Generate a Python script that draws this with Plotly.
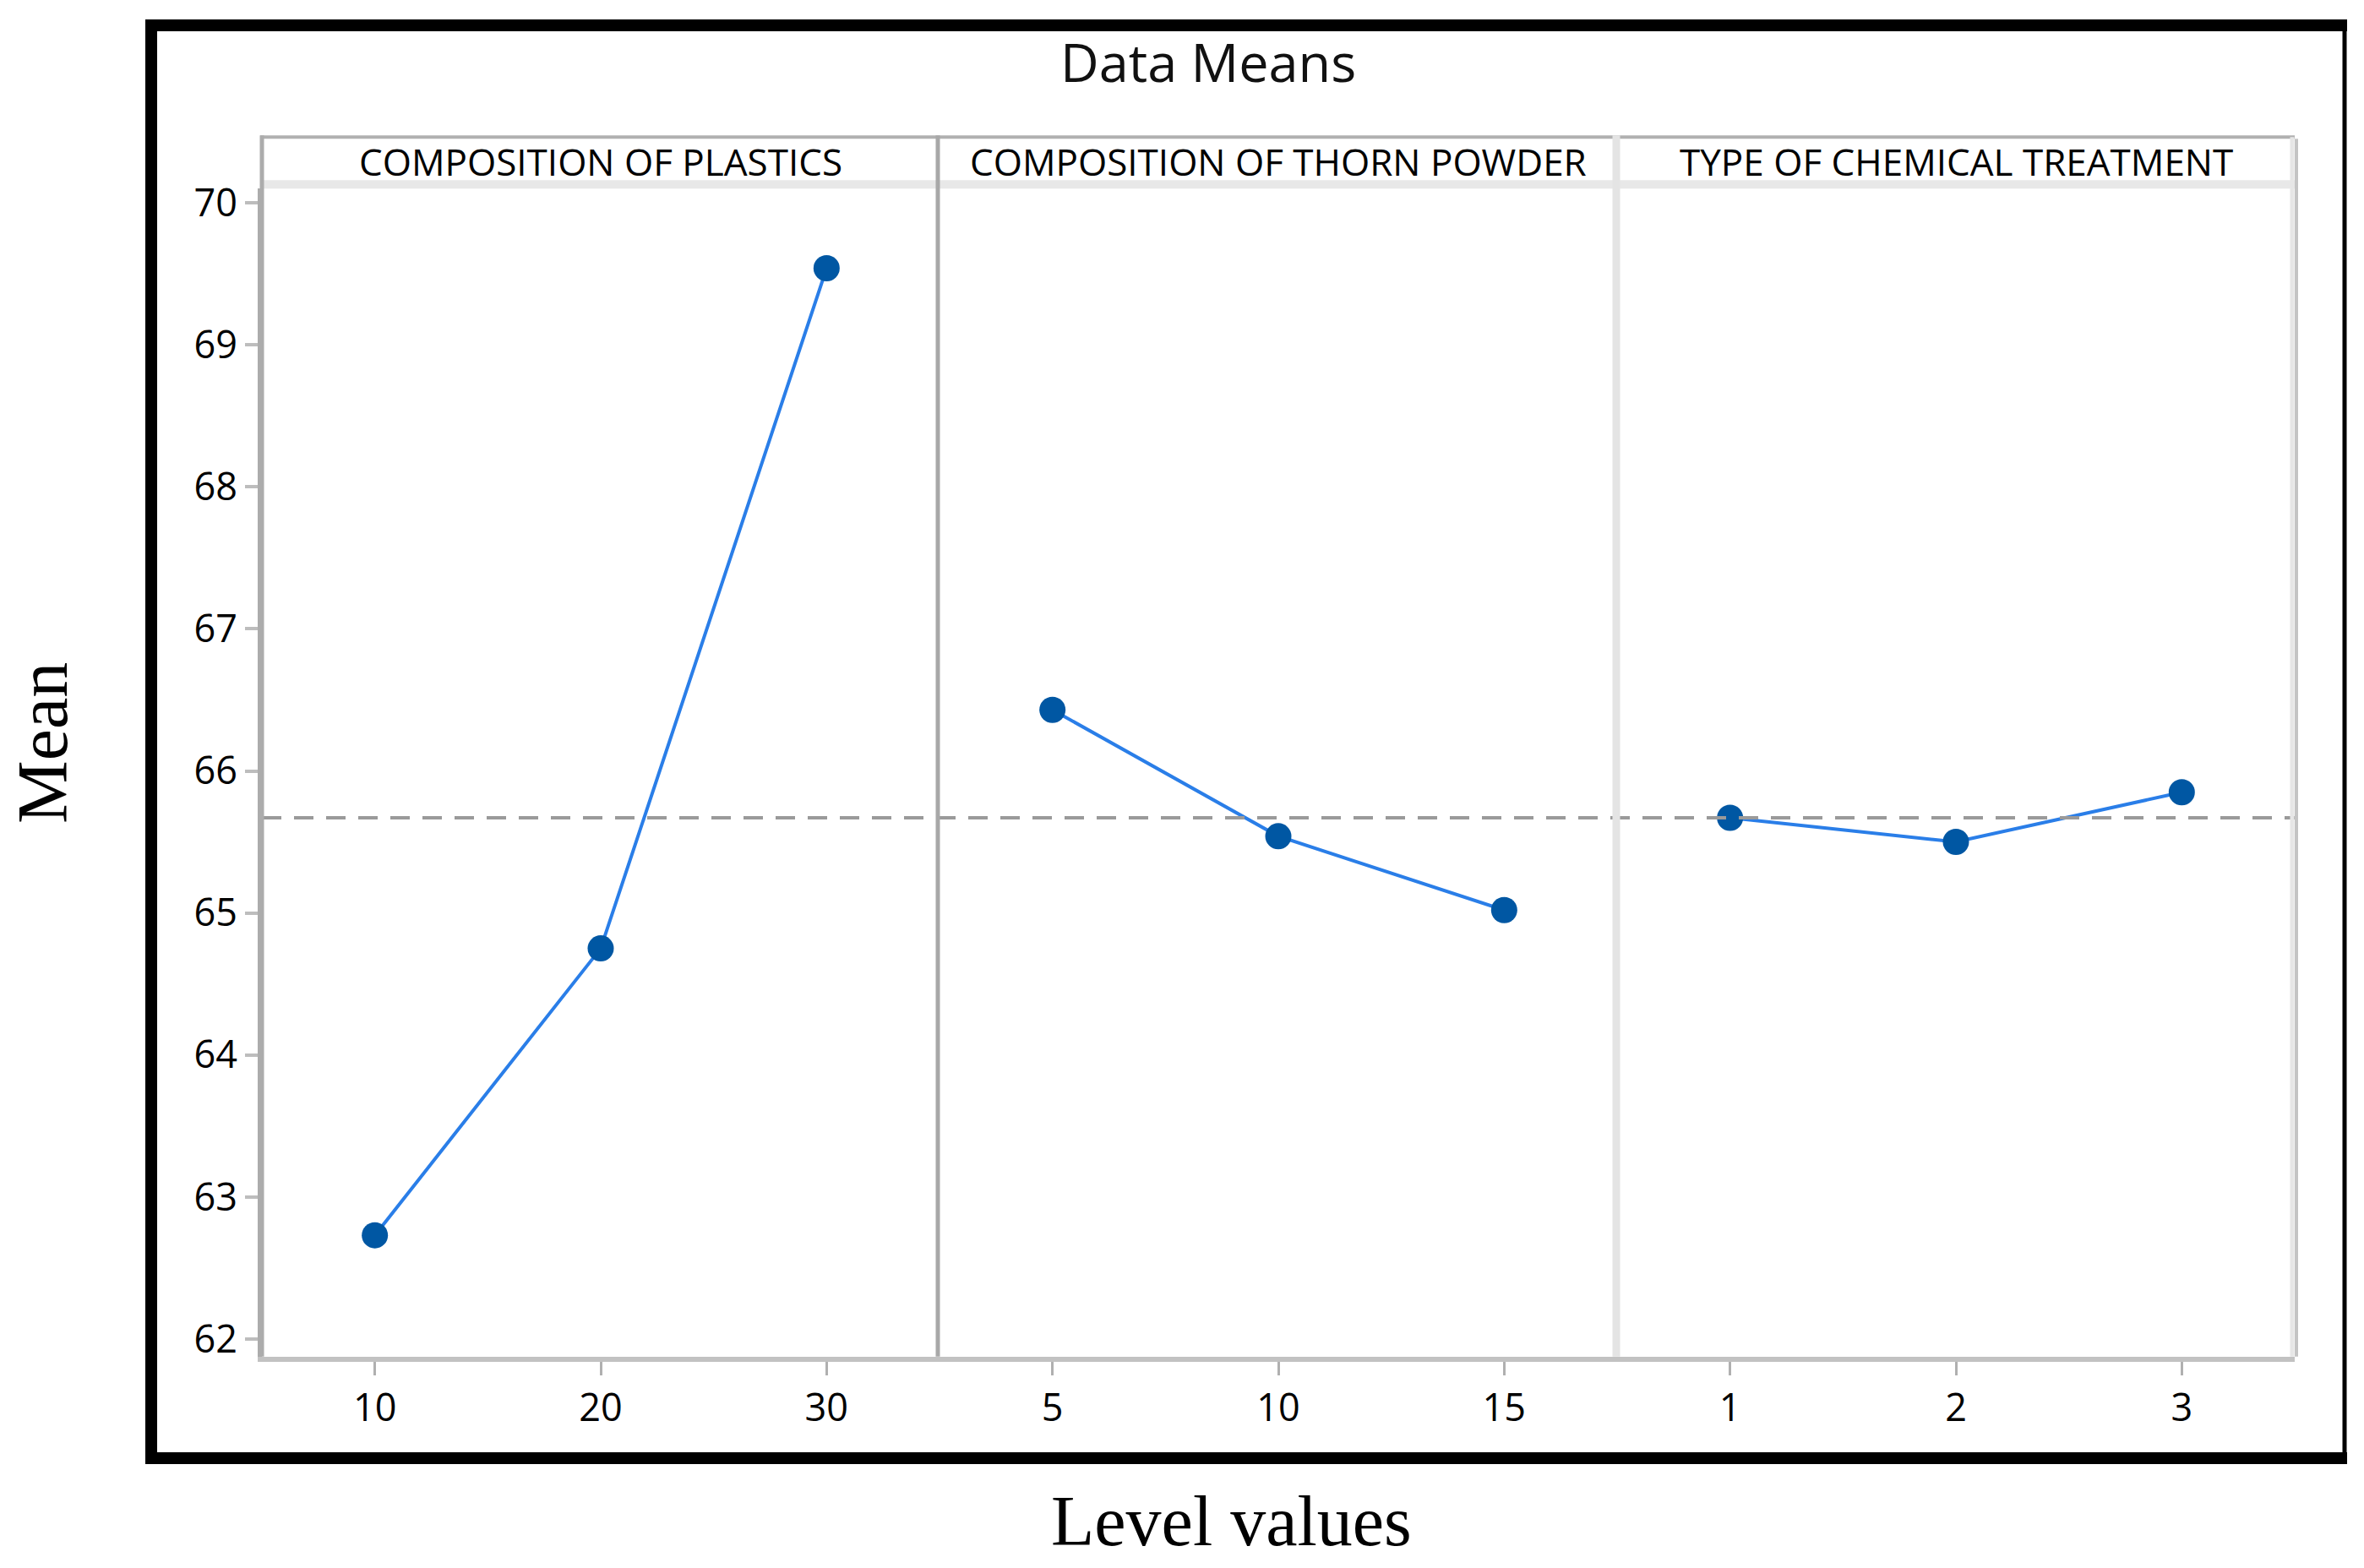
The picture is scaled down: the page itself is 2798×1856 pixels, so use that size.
"""
Main effects plot for means (Data Means) - three factors, three levels each
"""
import plotly.graph_objects as go
from plotly.subplots import make_subplots

# factor names and level values
factor_names = ["COMPOSITION OF PLASTICS", "COMPOSITION OF THORN POWDER", "TYPE OF CHEMICAL TREATMENT"]
plastic_levels = ["10", "20", "30"]
thorn_levels = ["5", "10", "15"]
treatment_levels = ["1", "2", "3"]

# mean response at each level
plastic_means = [62.73, 64.75, 69.54]
thorn_means = [66.43, 65.54, 65.02]
treatment_means = [65.67, 65.50, 65.85]

y_ticks = [62, 63, 64, 65, 66, 67, 68, 69, 70]

levels = [plastic_levels, thorn_levels, treatment_levels]
means = [plastic_means, thorn_means, treatment_means]
all_means = plastic_means + thorn_means + treatment_means
grand_mean = sum(all_means) / len(all_means)

W, H = 2798, 1856
#pixel layout of the panels (target pixels in the picture)
left_px, right_px = 310, 2716
top_px, bottom_px = 223, 1604
px = lambda v: v / W
# small vertical correction seen in the rendered page
py = lambda v: 1 - ((v - 15) / 0.987) / H

fig = make_subplots(rows=1, cols=3, shared_yaxes=True, horizontal_spacing=0)

marker_col = "#0057a3"
line_col = "#2a7ee8"
panel_w = (right_px - left_px) / 3

for i in range(3):
    fig.add_trace(go.Scatter(x=levels[i], y=means[i], mode="lines+markers",
                             line=dict(color=line_col, width=4),
                             marker=dict(color=marker_col, size=31),
                             showlegend=False), row=1, col=i + 1)
    d0 = px(left_px + i * panel_w)
    d1 = px(left_px + (i + 1) * panel_w)
    xa = "xaxis" if i == 0 else "xaxis%d" % (i + 1)
    fig.layout[xa].update(domain=[d0, d1], type="category", range=[-0.5, 2.5],
                          showgrid=False, zeroline=False,
                          showline=True, linecolor="#c2c2c2", linewidth=6,
                          ticks="outside", ticklen=16, tickwidth=3, tickcolor="#b0b0b0",
                          tickfont=dict(family="Open Sans", size=45, color="black"))
    # strip label
    fig.add_annotation(x=(d0 + d1) / 2, y=py(191), xref="paper", yref="paper",
                       text=factor_names[i], showarrow=False,
                       xanchor="center", yanchor="middle",
                       font=dict(family="Open Sans", size=44, color="black"))

fig.update_yaxes(domain=[py(bottom_px), py(top_px)], range=[61.875, 70.101],
                 tickvals=y_ticks, showgrid=False, zeroline=False)
fig.update_yaxes(showline=True, linecolor="#acacac", linewidth=5,
                 ticks="outside", ticklen=15, tickwidth=4, tickcolor="#bdbdbd",
                 tickfont=dict(family="Open Sans", size=45, color="black"), row=1, col=1)
fig.update_yaxes(showline=False, ticks="", showticklabels=False, row=1, col=2)
fig.update_yaxes(showline=False, ticks="", showticklabels=False, row=1, col=3)

shapes = []
# grand mean reference line
shapes.append(dict(type="line", xref="paper", yref="y", x0=px(left_px), x1=px(right_px),
                   y0=grand_mean, y1=grand_mean,
                   line=dict(color="#9a9a9a", width=4, dash="23px,15px")))
# strip header: top rule and grey band below
shapes.append(dict(type="line", xref="paper", yref="paper", x0=px(left_px - 2), x1=px(right_px),
                   y0=py(162), y1=py(162), line=dict(color="#b0b0b0", width=4)))
shapes.append(dict(type="rect", xref="paper", yref="paper", x0=px(left_px), x1=px(right_px),
                   y0=py(223), y1=py(213), fillcolor="#e8e8e8", line=dict(width=0)))
# panel separators
shapes.append(dict(type="line", xref="paper", yref="paper", x0=px(1110), x1=px(1110),
                   y0=py(bottom_px), y1=py(160), line=dict(color="#a8a8a8", width=5)))
shapes.append(dict(type="line", xref="paper", yref="paper", x0=px(1913), x1=px(1913),
                   y0=py(bottom_px), y1=py(160), line=dict(color="#e4e4e4", width=9)))
# left / right edges of the strip + plot
shapes.append(dict(type="line", xref="paper", yref="paper", x0=px(310), x1=px(310),
                   y0=py(bottom_px), y1=py(160), line=dict(color="#acacac", width=5)))
shapes.append(dict(type="line", xref="paper", yref="paper", x0=px(2713), x1=px(2713),
                   y0=py(bottom_px), y1=py(162), line=dict(color="#e6e6e6", width=5)))
shapes.append(dict(type="line", xref="paper", yref="paper", x0=px(2718), x1=px(2718),
                   y0=py(bottom_px), y1=py(164), line=dict(color="#c4c4c4", width=4)))
# black outer frame
frame = [(179, 30, 179, 1724, 14), (172, 30, 2778, 30, 14),
         (172, 1724, 2778, 1724, 14), (2775, 23, 2775, 1731, 5)]
for x0, y0, x1, y1, w in frame:
    shapes.append(dict(type="line", xref="paper", yref="paper", x0=px(x0), x1=px(x1),
                       y0=py(y0), y1=py(y1), line=dict(color="black", width=w)))

fig.update_layout(shapes=shapes)

fig.add_annotation(x=px(1430), y=py(72), xref="paper", yref="paper", text="Data Means",
                   showarrow=False, xanchor="center", yanchor="middle",
                   font=dict(family="Open Sans", size=63, color="#111111"))
fig.add_annotation(x=px(1457), y=py(1798), xref="paper", yref="paper", text="Level values",
                   showarrow=False, xanchor="center", yanchor="middle",
                   font=dict(family="Liberation Serif", size=84, color="black"))
fig.add_annotation(x=px(50), y=py(879), xref="paper", yref="paper", text="Mean",
                   showarrow=False, textangle=-90, xanchor="center", yanchor="middle",
                   font=dict(family="Liberation Serif", size=84, color="black"))

fig.update_layout(width=W, height=H, margin=dict(l=0, r=0, t=0, b=0),
                  paper_bgcolor="white", plot_bgcolor="white")

fig.write_html("out.html", config={"displayModeBar": False},
               post_script="document.body.style.margin='0';")
